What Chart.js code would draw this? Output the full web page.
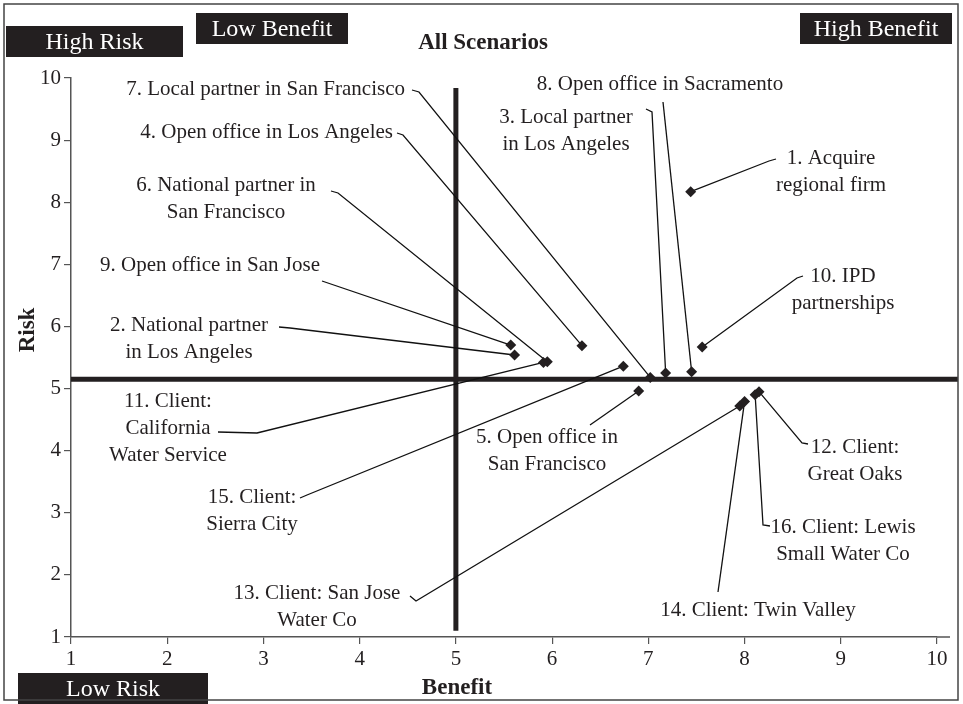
<!DOCTYPE html>
<html>
<head>
<meta charset="utf-8">
<script src="https://cdn.jsdelivr.net/npm/chart.js@4.4.1/dist/chart.umd.min.js"></script>
<style>
  html, body { margin: 0; padding: 0; background: #fff; }
  #wrap { width: 963px; height: 704px; }
</style>
</head>
<body>
<div id="wrap"><canvas id="riskChart" width="963" height="704"></canvas></div>
<script>
// scenario labels (one string per printed line)
const scenarios = [
  ['1. Acquire', 'regional firm'],
  ['2. National partner', 'in Los Angeles'],
  ['3. Local partner', 'in Los Angeles'],
  ['4. Open office in Los Angeles'],
  ['5. Open office in', 'San Francisco'],
  ['6. National partner in', 'San Francisco'],
  ['7. Local partner in San Francisco'],
  ['8. Open office in Sacramento'],
  ['9. Open office in San Jose'],
  ['10. IPD', 'partnerships'],
  ['11. Client:', 'California', 'Water Service'],
  ['12. Client:', 'Great Oaks'],
  ['13. Client: San Jose', 'Water Co'],
  ['14. Client: Twin Valley'],
  ['15. Client:', 'Sierra City'],
  ['16. Client: Lewis', 'Small Water Co']
];
const benefit = [7.44, 5.61, 7.18, 6.31, 6.90, 5.95, 7.02, 7.45, 5.57, 7.56, 5.91, 8.15, 7.95, 8.00, 6.74, 8.11];
const risk    = [8.17, 5.54, 5.25, 5.69, 4.96, 5.43, 5.18, 5.27, 5.70, 5.67, 5.42, 4.95, 4.72, 4.79, 5.36, 4.90];

const axisTicks = [1, 2, 3, 4, 5, 6, 7, 8, 9, 10];
const benefitCut = 5.0;
const riskCut = 5.15;
const quadrants = ['High Risk', 'Low Benefit', 'High Benefit', 'Low Risk'];

// where each label sits and the elbow of its leader line (canvas px)
const labelLayout = [
  { x: 831, y: 158, align: 'center', path: [[776, 159], [769, 161]] },
  { x: 189, y: 325, align: 'center', path: [[279, 327], [290, 328]] },
  { x: 566, y: 117, align: 'center', path: [[646, 109], [652, 112]] },
  { x: 393, y: 132, align: 'right',  path: [[397, 133], [403, 135]] },
  { x: 547, y: 437, align: 'center', path: [[590, 425]] },
  { x: 226, y: 185, align: 'center', path: [[331, 191], [338, 193]] },
  { x: 405, y: 89,  align: 'right',  path: [[412, 90], [419, 92]] },
  { x: 660, y: 84,  align: 'center', path: [[663, 102]] },
  { x: 210, y: 265, align: 'center', path: [[322, 281]] },
  { x: 843, y: 276, align: 'center', path: [[803, 276], [797, 278]] },
  { x: 168, y: 401, align: 'center', path: [[218, 432], [257, 433]] },
  { x: 855, y: 447, align: 'center', path: [[808, 444], [802, 443]] },
  { x: 317, y: 593, align: 'center', path: [[410, 596], [416, 601]] },
  { x: 758, y: 610, align: 'center', path: [[718, 592]] },
  { x: 252, y: 497, align: 'center', path: [[300, 498], [307, 495]] },
  { x: 843, y: 527, align: 'center', path: [[770, 526], [763, 525]] }
];

const INK = '#231f20';
const SERIF = '"Liberation Serif", "Times New Roman", serif';

const decor = {
  id: 'decor',
  beforeDatasetsDraw(chart) {
    const { ctx, scales: { x, y } } = chart;
    ctx.save();
    // thick quadrant divider lines
    ctx.strokeStyle = INK;
    ctx.lineWidth = 5;
    ctx.beginPath();
    ctx.moveTo(x.getPixelForValue(benefitCut), y.getPixelForValue(9.84));
    ctx.lineTo(x.getPixelForValue(benefitCut), y.getPixelForValue(1.1));
    ctx.moveTo(x.getPixelForValue(1), y.getPixelForValue(riskCut));
    ctx.lineTo(958, y.getPixelForValue(riskCut));
    ctx.stroke();

    // leader lines from labels to points
    ctx.lineWidth = 1.3;
    ctx.strokeStyle = '#111';
    labelLayout.forEach((lab, i) => {
      ctx.beginPath();
      ctx.moveTo(lab.path[0][0], lab.path[0][1]);
      for (let k = 1; k < lab.path.length; k++) ctx.lineTo(lab.path[k][0], lab.path[k][1]);
      ctx.lineTo(x.getPixelForValue(benefit[i]), y.getPixelForValue(risk[i]));
      ctx.stroke();
    });
    ctx.restore();
  },
  afterDraw(chart) {
    const { ctx, chartArea } = chart;
    ctx.save();
    ctx.fillStyle = INK;
    ctx.textBaseline = 'middle';

    // x axis runs a little past 10
    ctx.strokeStyle = '#555';
    ctx.lineWidth = 1.5;
    ctx.beginPath();
    ctx.moveTo(chartArea.right, chartArea.bottom);
    ctx.lineTo(950, chartArea.bottom);
    ctx.stroke();

    // scenario labels
    ctx.font = '21px ' + SERIF;
    labelLayout.forEach((lab, i) => {
      ctx.textAlign = lab.align;
      scenarios[i].forEach((line, k) => ctx.fillText(line, lab.x, lab.y + k * 27));
    });

    // titles
    ctx.textAlign = 'center';
    ctx.font = 'bold 23px ' + SERIF;
    ctx.fillText('All Scenarios', 483, 43);
    ctx.fillText('Benefit', 457, 688);
    ctx.save();
    ctx.translate(28, 330);
    ctx.rotate(-Math.PI / 2);
    ctx.fillText('Risk', 0, 0);
    ctx.restore();

    // quadrant tags
    const boxes = [
      [6, 26, 177, 31],
      [196, 13, 152, 31],
      [800, 13, 152, 31],
      [18, 673, 190, 31]
    ];
    ctx.font = '24px ' + SERIF;
    boxes.forEach((b, i) => {
      ctx.fillStyle = INK;
      ctx.fillRect(b[0], b[1], b[2], b[3]);
      ctx.fillStyle = '#fff';
      ctx.fillText(quadrants[i], b[0] + b[2] / 2, b[1] + b[3] / 2 + 1);
    });

    // frame round the figure
    ctx.strokeStyle = '#444';
    ctx.lineWidth = 1.5;
    ctx.strokeRect(4, 4, 954, 696);
    ctx.restore();
  }
};

const axisStyle = {
  type: 'linear',
  min: 1,
  max: 10,
  afterBuildTicks: (s) => { s.ticks = axisTicks.map(v => ({ value: v })); },
  ticks: { color: INK, font: { family: SERIF, size: 21 }, padding: 3 },
  grid: { drawOnChartArea: false, drawTicks: true, tickLength: 7, color: '#555', lineWidth: 1.2 },
  border: { display: true, color: '#555', width: 1.5 }
};

new Chart(document.getElementById('riskChart'), {
  type: 'scatter',
  data: {
    datasets: [{
      label: 'Scenarios',
      data: benefit.map((b, i) => ({ x: b, y: risk[i] })),
      pointStyle: 'rectRot',
      pointRadius: 5.5,
      backgroundColor: INK,
      borderWidth: 0
    }]
  },
  options: {
    responsive: false,
    animation: false,
    layout: { padding: { top: 78, left: 8, right: 26, bottom: 0 } },
    plugins: { legend: { display: false }, tooltip: { enabled: false } },
    scales: {
      x: Object.assign({}, axisStyle, { afterFit: (s) => { s.height = 67; } }),
      y: Object.assign({}, axisStyle, { afterFit: (s) => { s.width = 63; } })
    }
  },
  plugins: [decor]
});
</script>
</body>
</html>
